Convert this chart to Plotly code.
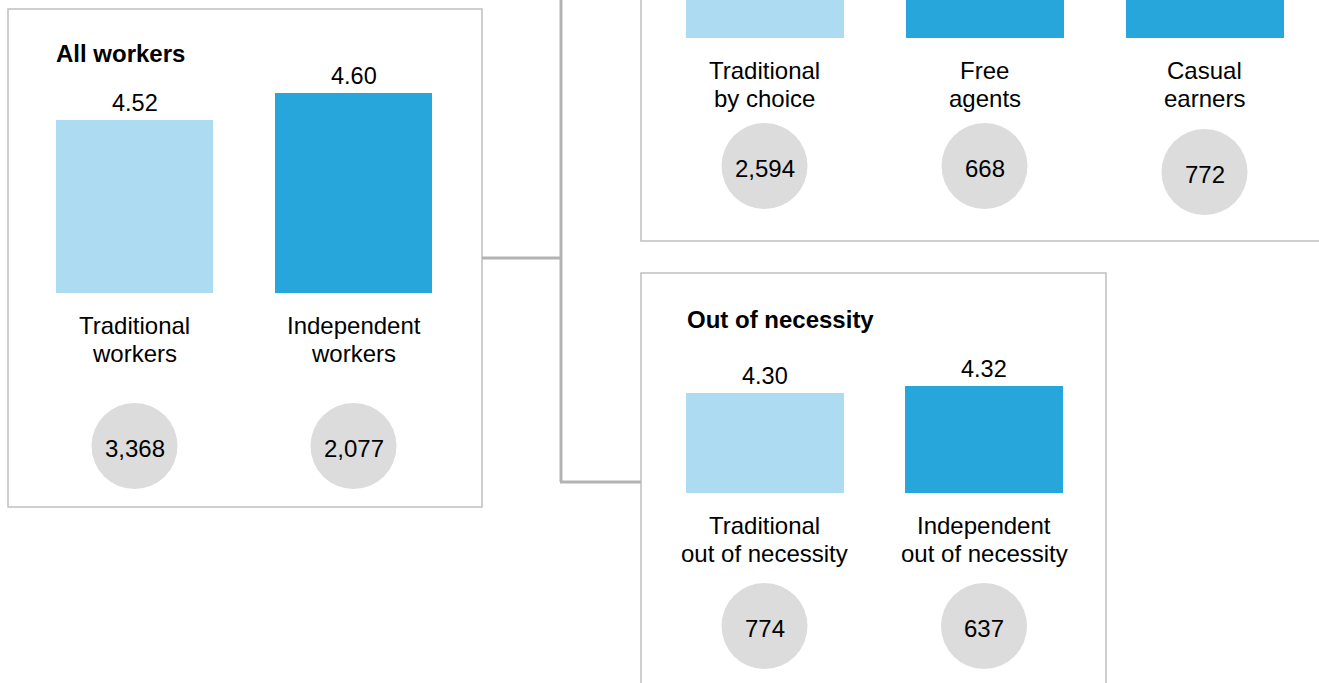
import plotly.graph_objects as go

W, H = 1319, 683
K = 333.0          # pixels per rating unit
BASE = 4.0         # bar baseline value

# ---------------- data ----------------
aw_cats = ["Traditional workers", "Independent workers"]
aw_labels = [["Traditional", "workers"], ["Independent", "workers"]]
aw_vals = [4.52, 4.60]
aw_n = [3368, 2077]

bc_cats = ["Traditional by choice", "Free agents", "Casual earners"]
bc_labels = [["Traditional", "by choice"], ["Free", "agents"], ["Casual", "earners"]]
bc_vals = [4.62, 4.79, 4.72]   # bar tops are cropped in the source; estimated
bc_n = [2594, 668, 772]

on_cats = ["Traditional out of necessity", "Independent out of necessity"]
on_labels = [["Traditional", "out of necessity"], ["Independent", "out of necessity"]]
on_vals = [4.30, 4.32]
on_n = [774, 637]

LIGHT = "#ADDCF2"
DARK = "#26A6DA"
CIRCLE = "#DCDCDC"
BOX = "#C0C0C0"
CONN = "#B3B3B3"
FONT = "Arial, Liberation Sans, sans-serif"
FS = 24
FS_VAL = 23.5
LINE_GAP = 28


def X(px):
    return px / W


def Y(py):
    return 1 - py / H


fig = go.Figure()
annotations = []
shapes = []

panels = [
    dict(cats=aw_cats, labels=aw_labels, vals=aw_vals, n=aw_n,
         colors=[LIGHT, DARK], x0=25, x1=463, base=293, top=60,
         label_y=339, circ=(400, 492), circ_off=[0, 0], show_val=True,
         xa="x", ya="y", yc="y2"),
    dict(cats=bc_cats, labels=bc_labels, vals=bc_vals, n=bc_n,
         colors=[LIGHT, DARK, DARK], x0=654.5, x1=1314.5, base=38, top=0,
         label_y=84.5, circ=(120, 212), circ_off=[0, 0, 6], show_val=False,
         xa="x2", ya="y3", yc="y4"),
    dict(cats=on_cats, labels=on_labels, vals=on_vals, n=on_n,
         colors=[LIGHT, DARK], x0=654.75, x1=1093.75, base=493, top=340,
         label_y=539, circ=(580, 672), circ_off=[0, 0], show_val=True,
         xa="x3", ya="y5", yc="y6"),
]

layout_axes = {}
for p in panels:
    xa, ya, yc = p["xa"], p["ya"], p["yc"]
    nc = len(p["cats"])
    fig.add_trace(go.Bar(
        x=p["cats"], y=p["vals"], marker=dict(color=p["colors"], line=dict(width=0)),
        width=0.72, xaxis=xa, yaxis=ya, hoverinfo="x+y", showlegend=False))
    ctop, cbot = p["circ"]
    span = cbot - ctop
    cy = [0.5 - o / span for o in p["circ_off"]]
    fig.add_trace(go.Scatter(
        x=p["cats"], y=cy, mode="markers",
        marker=dict(size=86, color=CIRCLE, line=dict(width=0)),
        xaxis=xa, yaxis=yc, hoverinfo="skip", showlegend=False, cliponaxis=False))
    for c, yy, nval in zip(p["cats"], cy, p["n"]):
        annotations.append(dict(x=c, y=yy, xref=xa, yref=yc, text=f"{nval:,}",
                                showarrow=False, xanchor="center", yanchor="middle", yshift=-2,
                                font=dict(size=FS, color="black", family=FONT)))

    xkey = "xaxis" + xa[1:]
    ykey = "yaxis" + ya[1:]
    ckey = "yaxis" + yc[1:]
    layout_axes[xkey] = dict(domain=[X(p["x0"]), X(p["x1"])], range=[-0.5, nc - 0.5],
                             type="category", visible=False, anchor=ya, fixedrange=True)
    layout_axes[ykey] = dict(domain=[Y(p["base"]), Y(p["top"])],
                             range=[BASE, BASE + (p["base"] - p["top"]) / K],
                             visible=False, anchor=xa, fixedrange=True)
    layout_axes[ckey] = dict(domain=[Y(cbot), Y(ctop)], range=[0, 1],
                             visible=False, anchor=xa, fixedrange=True)

    for c, lab, v in zip(p["cats"], p["labels"], p["vals"]):
        nl = len(lab)
        for i, txt in enumerate(lab):
            off = (i - (nl - 1) / 2) * LINE_GAP
            annotations.append(dict(x=c, y=Y(p["label_y"] + off), xref=xa, yref="paper",
                                    text=txt, showarrow=False, xanchor="center", yanchor="middle",
                                    font=dict(size=FS, color="black", family=FONT)))
        if p["show_val"]:
            annotations.append(dict(x=c, y=v, xref=xa, yref=ya, text=f"{v:.2f}",
                                    showarrow=False, xanchor="center", yanchor="middle",
                                    yshift=17, font=dict(size=FS_VAL, color="black", family=FONT)))

# titles
annotations.append(dict(x=X(54), y=Y(54), xref="paper", yref="paper", text="<b>All workers</b>",
                        showarrow=False, xanchor="left", yanchor="middle",
                        font=dict(size=FS, color="black", family=FONT)))
annotations.append(dict(x=X(685), y=Y(319), xref="paper", yref="paper", text="<b>Out of necessity</b>",
                        showarrow=False, xanchor="left", yanchor="middle",
                        font=dict(size=FS, color="black", family=FONT)))


def rect(x0, y0, x1, y1):
    return dict(type="rect", xref="paper", yref="paper", x0=X(x0), x1=X(x1), y0=Y(y1), y1=Y(y0),
                line=dict(color=BOX, width=1.5), fillcolor="rgba(0,0,0,0)", layer="below")


shapes.append(rect(8, 9, 482, 507))
shapes.append(rect(641, -20, 1340, 241))
shapes.append(rect(641, 273, 1106, 720))


def line(x0, y0, x1, y1):
    return dict(type="line", xref="paper", yref="paper", x0=X(x0), x1=X(x1), y0=Y(y0), y1=Y(y1),
                line=dict(color=CONN, width=3), layer="below")


shapes.append(line(482, 258, 562, 258))
shapes.append(line(561, -20, 561, 482))
shapes.append(line(560, 482, 641, 482))

fig.update_layout(
    width=W, height=H, margin=dict(l=0, r=0, t=0, b=0),
    paper_bgcolor="white", plot_bgcolor="rgba(0,0,0,0)",
    showlegend=False, bargap=0, annotations=annotations, shapes=shapes,
    font=dict(family=FONT, color="black"),
    **layout_axes,
)

fig.write_html("out.html", config={"displayModeBar": False},
               post_script="document.body.style.margin='0';document.body.style.overflow='hidden';")
